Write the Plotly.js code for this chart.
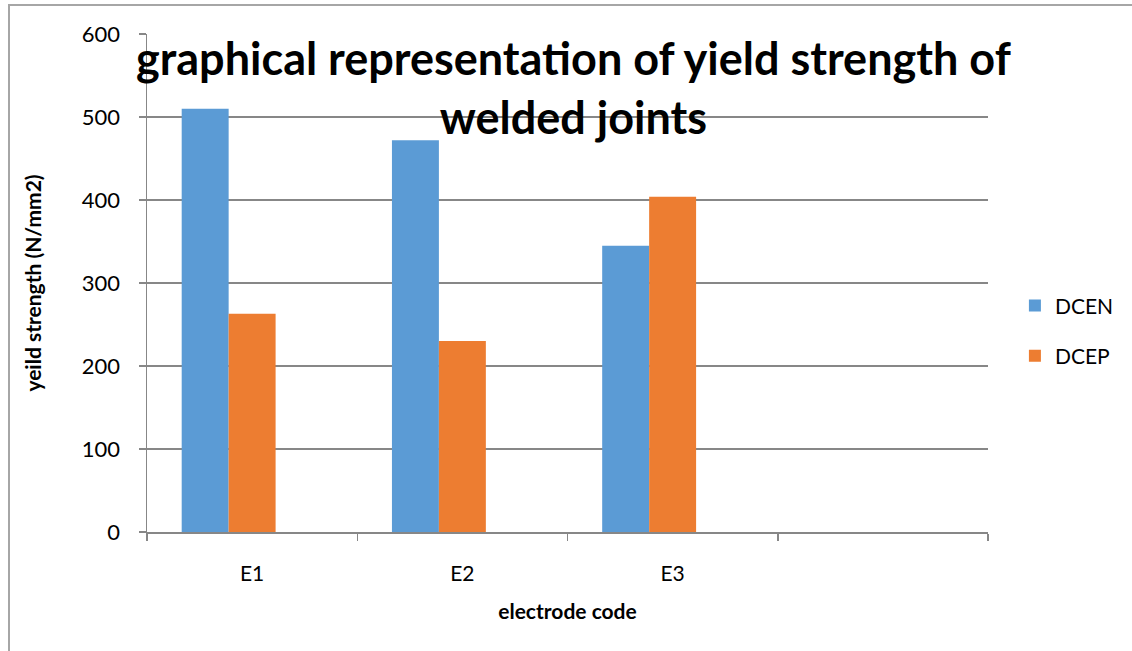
<!DOCTYPE html>
<html>
<head>
<meta charset="utf-8">
<script src="https://cdn.plot.ly/plotly-3.0.1.min.js"></script>
<style>html,body{margin:0;padding:0;background:#fff;}#chart{width:1132px;height:651px;}</style>
</head>
<body>
<div id="chart"></div>
<script>
const categories = ["E1", "E2", "E3", "E4"];
const tickLabels = ["E1", "E2", "E3", ""];
const dcen = [510, 472, 345, null];
const dcep = [263, 230, 404, null];
const blankSeries = [null, null, null, null];
const seriesNames = ["DCEN", "DCEP", ""];

const FONT = "Lato, 'Open Sans', sans-serif";
const GRID = "#878787";

const traces = [
  {type: "bar", name: seriesNames[0], x: categories, y: dcen, marker: {color: "#5B9BD5"}, legendgroup: "a"},
  {type: "bar", name: seriesNames[1], x: categories, y: dcep, marker: {color: "#ED7D31"}, legendgroup: "b"},
  {type: "bar", name: seriesNames[2], x: categories, y: blankSeries, marker: {color: "#A5A5A5"}, showlegend: false, hoverinfo: "skip"}
];

const layout = {
  width: 1132, height: 651,
  margin: {l: 147, r: 144, t: 34, b: 119, pad: 0, autoexpand: false},
  paper_bgcolor: "#fff", plot_bgcolor: "#fff",
  font: {family: FONT, color: "#000", size: 19},
  barmode: "group", bargap: 0.33, bargroupgap: 0,
  title: {
    text: "<b>graphical representation of yield strength of<br>welded joints</b>",
    font: {family: FONT, size: 45, color: "#000"},
    x: 0.507, xanchor: "center", xref: "paper",
    y: 1 - 75/651, yanchor: "top", yref: "container"
  },
  xaxis: {
    type: "category", categoryorder: "array", categoryarray: categories,
    tickvals: categories, ticktext: tickLabels,
    range: [-0.5, 3.5], fixedrange: true, automargin: false,
    showline: true, linecolor: GRID, linewidth: 1.5,
    ticks: "outside", ticklen: 7, tickcolor: GRID, tickwidth: 1.5, tickson: "boundaries",
    ticklabelstandoff: 22,
    showgrid: false, zeroline: false,
    tickfont: {family: FONT, size: 21, color: "#000"},
    title: {text: "<b>electrode code</b>", font: {family: FONT, size: 21, color: "#000"}, standoff: 20}
  },
  yaxis: {
    range: [0, 600], dtick: 100, tick0: 0, fixedrange: true, automargin: false,
    showline: true, linecolor: GRID, linewidth: 1.5,
    ticks: "outside", ticklen: 7, tickcolor: GRID, tickwidth: 1.5,
    ticklabelstandoff: 14,
    showgrid: true, gridcolor: GRID, gridwidth: 1.5, zeroline: false,
    tickfont: {family: FONT, size: 22, color: "#000"},
    title: {text: "<b>yeild strength (N/mm2)</b>", font: {family: FONT, size: 21, color: "#000"}, standoff: 34}
  },
  showlegend: true,
  legend: {
    x: 1.032, xanchor: "left", y: 0.404, yanchor: "middle",
    font: {family: FONT, size: 21, color: "#000"},
    traceorder: "grouped", tracegroupgap: 20,
    bgcolor: "rgba(0,0,0,0)", itemwidth: 30
  },
  shapes: [
    {type: "rect", xref: "paper", yref: "paper", x0: (9-147)/841, x1: 1.2, y0: -0.3, y1: (532-5)/498,
     line: {color: "#A6A6A6", width: 2}, fillcolor: "rgba(0,0,0,0)", layer: "below"}
  ]
};

Plotly.newPlot("chart", traces, layout, {displayModeBar: false, staticPlot: true});
</script>
</body>
</html>
